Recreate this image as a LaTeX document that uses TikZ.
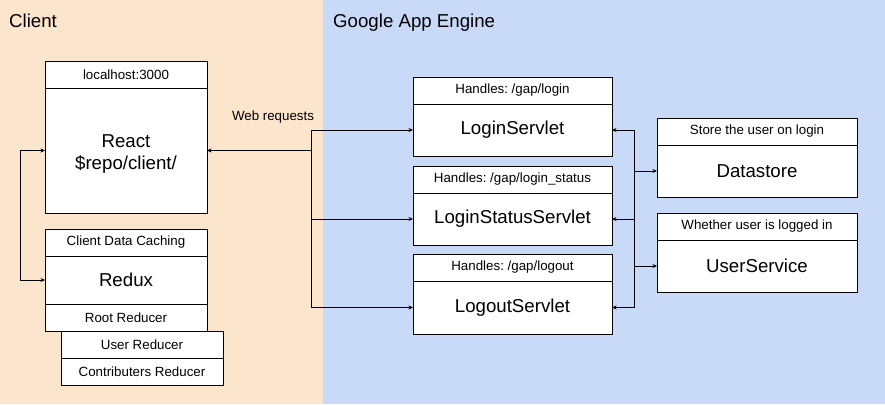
\documentclass[tikz,border=0pt]{standalone}
\usepackage{fontspec}
\setmainfont{Liberation Sans}
\usetikzlibrary{arrows.meta}
\definecolor{peach}{HTML}{FCE5CD}
\definecolor{cblue}{HTML}{C9DAF8}
\newcommand\fsmall{\fontsize{13.33}{16}\selectfont\frenchspacing}
\newcommand\fbig{\fontsize{18.67}{21.5}\selectfont\frenchspacing}
\frenchspacing
\begin{document}
\begin{tikzpicture}[x=1pt,y=-1pt,
  part/.style={draw=black, fill=white, line width=1pt, inner sep=0pt, outer sep=0pt, anchor=north west, align=center},
  hdr/.style={part, font=\fsmall},
  big/.style={part, font=\fbig},
  conn/.style={draw=black, line width=1pt},
  tip/.tip={Stealth[length=4.5pt,width=4pt]},
  arr/.style={conn, -tip},
  title/.style={anchor=base west, inner sep=0pt, font=\fbig},
]
\fill[peach] (0,0) rectangle (323,404);
\fill[cblue] (323,0) rectangle (885,404);
\useasboundingbox (0,0) rectangle (885,404);
\node[title] (tclient) at (9,28) {Client};
\node[title] (tgae) at (333,28) {Google App Engine};

% Client boxes
\node[hdr, minimum width=162pt, minimum height=27pt] (reactH) at (45,61) {localhost:3000};
\node[big, minimum width=162pt, minimum height=125pt] (reactB) at (45,88) {\rule{0pt}{19.5pt}React\\\$repo/client/};

\node[hdr, minimum width=162pt, minimum height=27pt] (reduxH) at (45,229) {Client Data Caching};
\node[big, minimum width=162pt, minimum height=48pt] (reduxB) at (45,256) {Redux};
\node[hdr, minimum width=162pt, minimum height=27pt] (rootR) at (45,304) {Root Reducer};
\node[hdr, minimum width=162pt, minimum height=27pt] (userR) at (61,331) {User Reducer};
\node[hdr, minimum width=162pt, minimum height=27pt] (contR) at (61,358) {Contributers Reducer};

\node[font=\fsmall, inner sep=0pt] (wr) at (273,117) {Web requests};

% Servlets
\node[hdr, minimum width=199pt, minimum height=27pt] (loginH) at (413,77) {Handles: /gap/login};
\node[big, minimum width=199pt, minimum height=52pt] (loginB) at (413,104) {LoginServlet};
\node[hdr, minimum width=199pt, minimum height=27pt] (statusH) at (413,166) {Handles: /gap/login\_status};
\node[big, minimum width=199pt, minimum height=52pt] (statusB) at (413,193) {LoginStatusServlet};
\node[hdr, minimum width=199pt, minimum height=27pt] (logoutH) at (413,254) {Handles: /gap/logout};
\node[big, minimum width=199pt, minimum height=53pt] (logoutB) at (413,281) {LogoutServlet};

% Services
\node[hdr, minimum width=200pt, minimum height=27pt] (dsH) at (657,118) {Store the user on login};
\node[big, minimum width=200pt, minimum height=52pt] (dsB) at (657,145) {Datastore};
\node[hdr, minimum width=200pt, minimum height=27pt] (usH) at (657,213) {Whether user is logged in};
\node[big, minimum width=200pt, minimum height=52pt] (usB) at (657,240) {UserService};

% Connectors
\coordinate (cl) at (20,0);
\draw[conn, tip-tip] (reactB.west) -- (cl |- reactB.west) -- (cl |- reduxB.west) -- (reduxB.west);

\coordinate (lbus) at (311,0);
\draw[arr] (lbus |- reactB.east) -- (reactB.east);
\draw[conn] (lbus |- loginB.west) -- (lbus |- logoutB.west);
\draw[arr] (lbus |- loginB.west) -- (loginB.west);
\draw[arr] (lbus |- statusB.west) -- (statusB.west);
\draw[arr] (lbus |- logoutB.west) -- (logoutB.west);

\coordinate (rbus) at (634,0);
\draw[conn] (rbus |- loginB.east) -- (rbus |- logoutB.east);
\draw[arr] (rbus |- loginB.east) -- (loginB.east);
\draw[arr] (rbus |- statusB.east) -- (statusB.east);
\draw[arr] (rbus |- logoutB.east) -- (logoutB.east);
\draw[arr] (rbus |- dsB.west) -- (dsB.west);
\draw[arr] (rbus |- usB.west) -- (usB.west);
\end{tikzpicture}
\end{document}
